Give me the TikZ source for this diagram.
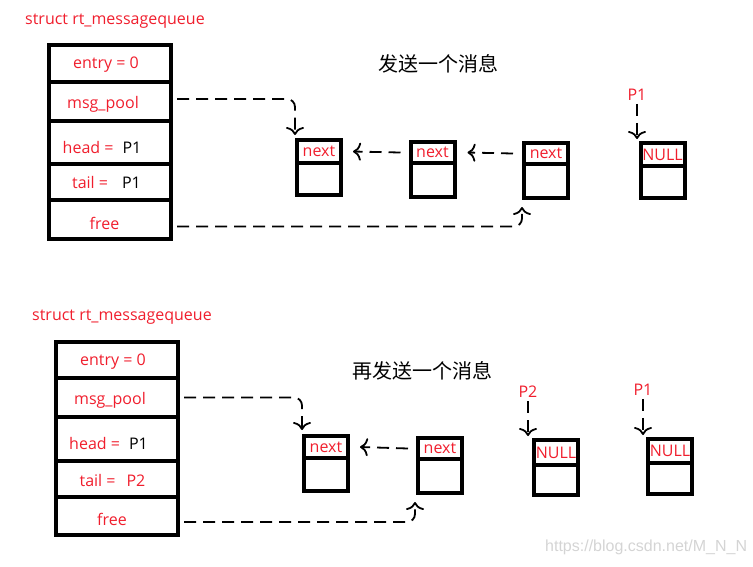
\documentclass[tikz,border=0pt]{standalone}
\usepackage{fontspec}
\setmainfont{Open Sans}
\newfontfamily\cjk{Noto Sans CJK SC}
\newfontfamily\markfont{Liberation Sans}
\usetikzlibrary{arrows.meta}
\definecolor{msgred}{RGB}{240,30,45}
\definecolor{wmgray}{RGB}{212,212,212}

\begin{document}
\begin{tikzpicture}[x=1pt,y=-1pt,font=\fontsize{16}{19}\selectfont,
    box/.style={draw,line width=4pt,outer sep=0pt,inner sep=0pt,minimum width=122pt},
    lst/.style={draw,line width=4pt,outer sep=0pt,inner sep=0pt,minimum width=44pt,text=msgred},
    lbl/.style={text=msgred,inner sep=0pt},
    ptr/.style={dash pattern=on 12pt off 7pt,line width=1.8pt,-{To[length=8pt,width=18pt,line width=1.8pt]}}]
  \useasboundingbox (0,0) rectangle (753,566);
  \node[lbl] (tname) at (115,21) {struct rt\_messagequeue};
  \node[box,minimum height=37pt,label={[lbl,xshift=-4pt,yshift=-1.5pt]center:entry = 0}] (tentry) at (110,63.5) {};
  \node[box,minimum height=39pt,label={[lbl,xshift=-7pt,yshift=-2.5pt]center:msg\_pool}] (tpool) at (110,101.5) {};
  \node[box,minimum height=43pt,label={[lbl,xshift=-8pt,yshift=-4.5pt]center:head =\hspace{9pt}\textcolor{black}{P1}}] (thead) at (110,142.5) {};
  \node[box,minimum height=36pt,label={[lbl,xshift=-3.5pt]center:tail =\hspace{14pt}\textcolor{black}{P1}}] (ttail) at (110,182) {};
  \node[box,minimum height=39pt,label={[lbl,xshift=-5.5pt,yshift=-3.5pt]center:free}] (tfree) at (110,219.5) {};
  \node[lbl] (bname) at (122,317) {struct rt\_messagequeue};
  \node[box,minimum height=36pt,label={[lbl,xshift=-4pt,yshift=-2pt]center:entry = 0}] (bentry) at (117,360) {};
  \node[box,minimum height=39pt,label={[lbl,xshift=-7pt,yshift=-2.5pt]center:msg\_pool}] (bpool) at (117,397.5) {};
  \node[box,minimum height=44pt,label={[lbl,xshift=-8.5pt,yshift=-4pt]center:head =\hspace{9pt}\textcolor{black}{P1}}] (bhead) at (117,439) {};
  \node[box,minimum height=36pt,label={[lbl,xshift=-4.5pt,yshift=-1pt]center:tail =\hspace{11pt}P2}] (btail) at (117,479) {};
  \node[box,minimum height=38pt,label={[lbl,xshift=-5pt,yshift=-3pt]center:free}] (bfree) at (117,516) {};
  \node[font=\cjk\fontsize{20}{24}\selectfont] (ttitle) at (438,64) {发送一个消息};
  \node[font=\cjk\fontsize{20}{24}\selectfont] (btitle) at (422,371) {再发送一个消息};
  \foreach \n/\x/\y/\h/\b/\t in {t1/319/140/23/32/next,t2/432.5/142/21/34/next,t3/546/143/21/34/next,t4/662.5/143/23/32/NULL,
      b1/326/436/22/33/next,b2/440/438/21/34/next,b3/556/440/25/30/NULL,b4/670/439/24/31/NULL}{
    \node[lst,minimum height=\h pt,anchor=north] (\n t) at (\x,\y) {\t};
    \node[lst,minimum height=\b pt,anchor=north] (\n b) at (\n t.south) {};
  }
  \draw[ptr,rounded corners=8pt] ([xshift=6pt,yshift=2.5pt]tpool.east) -| ([xshift=-2pt,yshift=5pt]t1t.north west);
  \draw[ptr,rounded corners=8pt] ([xshift=6pt,yshift=-7pt]tfree.east) -| ([xshift=-2pt,yshift=-9pt]t3b.south west);
  \draw[ptr] ([xshift=-10pt]t2t.west) -- ([xshift=12pt]t1t.east);
  \draw[ptr] ([xshift=-11pt]t3t.west) -- ([xshift=13pt]t2t.east);
  \node[lbl] (tp1) at (637,95) {P1};
  \draw[ptr] ([yshift=-3pt]tp1.south) -- ([yshift=4pt]tp1.south |- t4t.north);
  \draw[ptr,rounded corners=8pt] ([xshift=6pt]bpool.east) -| ([xshift=-2pt,yshift=6pt]b1t.north west);
  \draw[ptr,rounded corners=8pt] ([xshift=6pt,yshift=-6pt]bfree.east) -| ([xshift=-3pt,yshift=-9pt]b2b.south west);
  \draw[ptr] ([xshift=-10pt]b2t.west) -- ([xshift=12pt]b1t.east);
  \node[lbl] (bp2) at (528,392) {P2};
  \draw[ptr] ([yshift=-3pt]bp2.south) -- ([yshift=4pt]bp2.south |- b3t.north);
  \node[lbl] (bp1) at (643,390) {P1};
  \draw[ptr] ([yshift=-3pt]bp1.south) -- ([yshift=4pt]bp1.south |- b4t.north);
  \node[text=wmgray,anchor=west,inner sep=0pt,font=\markfont\fontsize{16}{18}\selectfont] (mark) at (545,547) {https://blog.csdn.net/M\_N\_N};
\end{tikzpicture}
\end{document}
